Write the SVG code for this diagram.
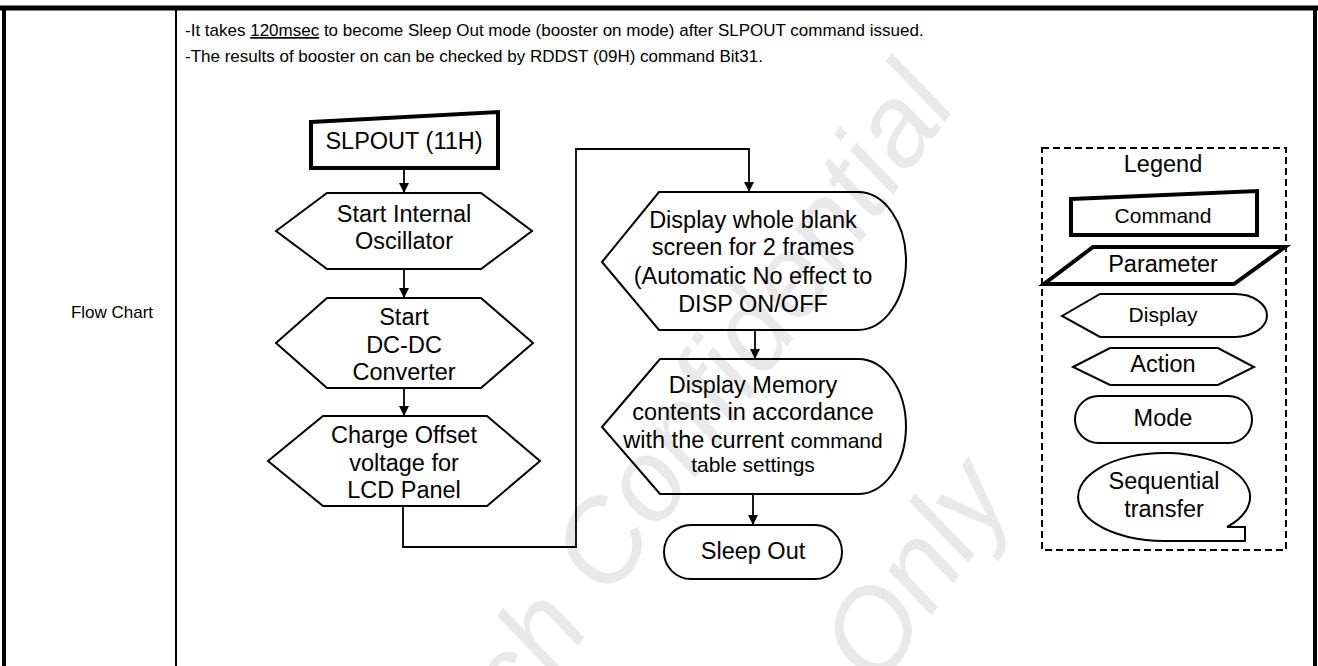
<svg xmlns="http://www.w3.org/2000/svg" width="1318" height="666" viewBox="0 0 1318 666">
<style>
text{font-family:"Liberation Sans",Arial,sans-serif;fill:#000}
.t{font-size:23.5px;text-anchor:middle}
.s{font-size:21px;text-anchor:middle}
.h{font-size:17px}
.shape{fill:none;stroke:#000;stroke-width:2}
.thick{fill:none;stroke:#000;stroke-width:4}
.wm{font-size:115px;font-style:italic;fill:#e9e9e9}
.conn{fill:none;stroke:#000;stroke-width:1.8}
</style>
<defs>
<marker id="arr" viewBox="0 0 10 10" refX="10" refY="5" markerWidth="10" markerHeight="10" markerUnits="userSpaceOnUse" orient="auto">
<path d="M0,0 L10,5 L0,10 Z" fill="#000"/>
</marker>
</defs>
<rect width="1318" height="666" fill="#fff"/>
<g id="watermark">
<g transform="translate(610,600) rotate(-55)">
<text class="wm" x="0" y="0">Confidential</text>
<text class="wm" x="-32" y="0" text-anchor="end">ch</text>
<text class="wm" x="81" y="272">Only</text>
</g>
</g>
<g id="table">
<line x1="0" y1="8" x2="1318" y2="8" stroke="#000" stroke-width="5"/>
<line x1="4" y1="6" x2="4" y2="666" stroke="#000" stroke-width="4"/>
<line x1="1315" y1="6" x2="1315" y2="666" stroke="#000" stroke-width="4"/>
<line x1="176" y1="8" x2="176" y2="666" stroke="#000" stroke-width="2"/>
<text class="h" x="112" y="318" text-anchor="middle">Flow Chart</text>
<text class="h" x="185" y="36">-It takes <tspan text-decoration="underline">120msec</tspan> to become Sleep Out mode (booster on mode) after SLPOUT command issued.</text>
<text class="h" x="185" y="62">-The results of booster on can be checked by RDDST (09H) command Bit31.</text>
</g>
<g id="connectors">
<line class="conn" x1="404" y1="168" x2="404" y2="193" marker-end="url(#arr)"/>
<line class="conn" x1="404" y1="269" x2="404" y2="298" marker-end="url(#arr)"/>
<line class="conn" x1="404" y1="388" x2="404" y2="416" marker-end="url(#arr)"/>
<polyline class="conn" points="403,506 403,547 576,547 576,149 749,149 749,192" marker-end="url(#arr)"/>
<line class="conn" x1="755" y1="330" x2="755" y2="359" marker-end="url(#arr)"/>
<line class="conn" x1="753" y1="494" x2="753" y2="525" marker-end="url(#arr)"/>
</g>
<g id="slpout">
<polygon class="thick" points="311,122 498,112 498,168 311,168"/>
<text class="t" x="404" y="149">SLPOUT (11H)</text>
</g>
<g id="osc">
<polygon class="shape" points="276,231 327,193 481,193 532,231 481,269 327,269"/>
<text class="t" x="404" y="222">Start Internal</text>
<text class="t" x="404" y="249">Oscillator</text>
</g>
<g id="dcdc">
<polygon class="shape" points="276,343 327,298 481,298 533,343 481,388 327,388"/>
<text class="t" x="404" y="325">Start</text>
<text class="t" x="404" y="353">DC-DC</text>
<text class="t" x="404" y="380">Converter</text>
</g>
<g id="charge">
<polygon class="shape" points="268,461 323,416 487,416 540,461 487,506 323,506"/>
<text class="t" x="404" y="443">Charge Offset</text>
<text class="t" x="404" y="471">voltage for</text>
<text class="t" x="404" y="498">LCD Panel</text>
</g>
<g id="blank">
<path class="shape" d="M602,262 L659,192 L858,192 A48,69 0 0 1 858,330 L659,330 Z"/>
<text class="t" x="753" y="228">Display whole blank</text>
<text class="t" x="753" y="255">screen for 2 frames</text>
<text class="t" x="753" y="284">(Automatic No effect to</text>
<text class="t" x="753" y="312">DISP ON/OFF</text>
</g>
<g id="memory">
<path class="shape" d="M602,427 L660,359 L858,359 A48,67.5 0 0 1 858,494 L660,494 Z"/>
<text class="t" x="753" y="393">Display Memory</text>
<text class="t" x="753" y="420">contents in accordance</text>
<text class="t" x="753" y="448">with the current <tspan font-size="21px">command</tspan></text>
<text class="s" x="753" y="472">table settings</text>
</g>
<g id="sleepout">
<rect class="shape" x="664" y="525" width="178" height="54" rx="27"/>
<text class="t" x="753" y="559">Sleep Out</text>
</g>
<g id="legend">
<rect x="1042" y="148" width="244" height="402" fill="none" stroke="#000" stroke-width="2" stroke-dasharray="7 4"/>
<text class="t" x="1163" y="172">Legend</text>
<polygon class="thick" points="1071,199 1257,191 1257,235 1071,235"/>
<text class="s" x="1163" y="223">Command</text>
<polygon class="thick" points="1093,247 1285,247 1234,284 1044,284"/>
<text class="t" x="1163" y="272">Parameter</text>
<path class="shape" d="M1062,316 L1100,294 L1235,294 A32,21.5 0 0 1 1235,337 L1100,337 Z"/>
<text class="s" x="1163" y="322">Display</text>
<polygon class="shape" points="1073,367 1110,348 1218,348 1254,367 1218,385 1110,385"/>
<text class="t" x="1163" y="372">Action</text>
<rect class="shape" x="1075" y="396" width="177" height="47" rx="23.5"/>
<text class="t" x="1163" y="426">Mode</text>
<path class="shape" d="M1164,541 A86,44 0 1 1 1227,527 L1245,527 L1245,541 Z"/>
<text class="t" x="1164" y="489">Sequential</text>
<text class="t" x="1164" y="517">transfer</text>
</g>
</svg>
